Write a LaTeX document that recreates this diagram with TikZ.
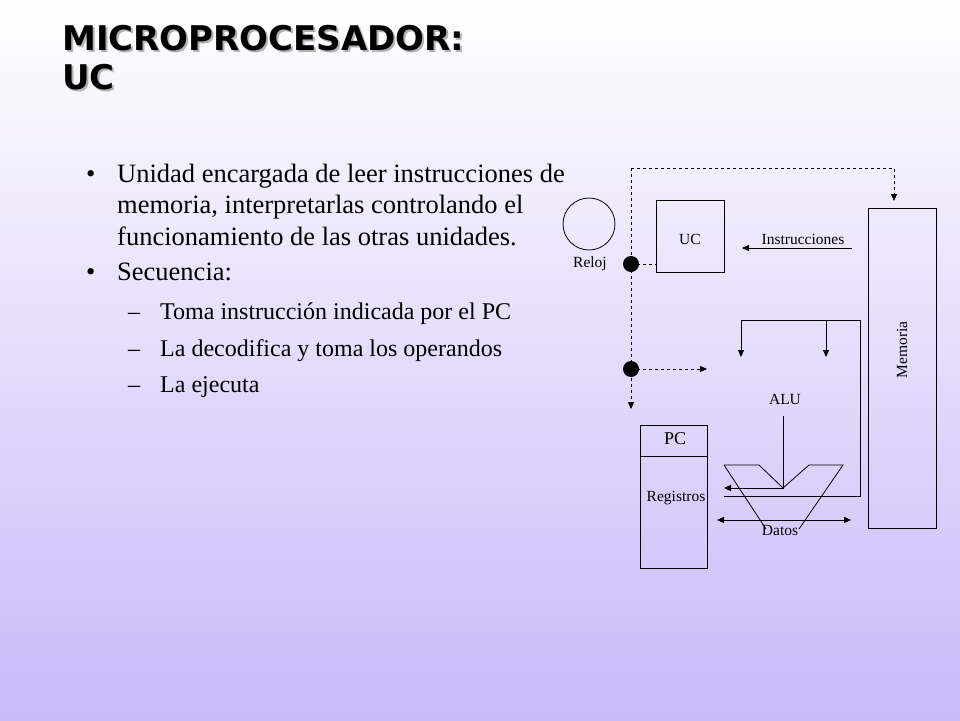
\documentclass[tikz,border=0pt]{standalone}
\usepackage{fontspec}
\setmainfont{Liberation Serif}
\newfontfamily\titlefont{DejaVu Sans}
\usetikzlibrary{arrows.meta}
\definecolor{lav}{RGB}{200,185,248}
\begin{document}
\begin{tikzpicture}[x=1pt,y=-1pt,
  ln/.style={line width=0.8pt},
  dsh/.style={ln,dash pattern=on 3pt off 3pt},
  arr/.style={-{Triangle[length=7pt,width=6pt]}},
  lbl/.style={font=\fontsize{15.5}{17}\selectfont,inner sep=0pt},
  body/.style={font=\fontsize{26.5}{30}\selectfont,anchor=base west,inner sep=0pt},
  sub/.style={font=\fontsize{24}{27}\selectfont,anchor=base west,inner sep=0pt}]
\shade[top color=white,bottom color=lav] (0,0) rectangle (960,720);
\useasboundingbox (0,0) rectangle (960,720);
% title
\node[anchor=base west,inner sep=0pt,text=gray!60,font=\titlefont\bfseries\fontsize{34}{38}\selectfont] at (64,52) {MICROPROCESADOR:};
\node[anchor=base west,inner sep=0pt,text=gray!60,font=\titlefont\bfseries\fontsize{34}{38}\selectfont] at (64,91) {UC};
\node[anchor=base west,inner sep=0pt,font=\titlefont\bfseries\fontsize{34}{38}\selectfont] (title1) at (62,50) {MICROPROCESADOR:};
\node[anchor=base west,inner sep=0pt,font=\titlefont\bfseries\fontsize{34}{38}\selectfont] (title2) at (62,89) {UC};
% text
\node[body] (b1) at (86,182) {•};
\node[body] (t1) at (117,182) {Unidad encargada de leer instrucciones de};
\node[body] (t2) at (117,213) {memoria, interpretarlas controlando el};
\node[body] (t3) at (117,245) {funcionamiento de las otras unidades.};
\node[body] (b2) at (86,280) {•};
\node[body] (t4) at (117,280) {Secuencia:};
\node[sub] (d1) at (128,319) {–};
\node[sub] (s1) at (160,319) {Toma instrucción indicada por el PC};
\node[sub] (d2) at (128,356) {–};
\node[sub] (s2) at (160,356) {La decodifica y toma los operandos};
\node[sub] (d3) at (128,392) {–};
\node[sub] (s3) at (160,392) {La ejecuta};
% diagram
\node[draw,ln,circle,minimum size=52pt,inner sep=0pt] (reloj) at (589,224) {};
\node[lbl] (rl) at (590,264) {Reloj};
\node[draw,ln,minimum width=68pt,minimum height=72pt,inner sep=0pt] (uc) at (690,236) {};
\node[lbl] at (690,239) {UC};
\node[draw,ln,minimum width=68pt,minimum height=320pt,inner sep=0pt] (mem) at (902,368) {};
\node[lbl,rotate=90] at (902,350) {Memoria};
\node[draw,ln,minimum width=67pt,minimum height=143pt,inner sep=0pt] (reg) at (673.5,496.5) {};
\draw[ln] (640,456) -- (707,456);
\node[lbl,font=\fontsize{18}{20}\selectfont] at (675,439) {PC};
\node[lbl] at (676,498) {Registros};
\fill (631,264) circle (8) coordinate (dot1);
\fill (631,369) circle (8) coordinate (dot2);
\coordinate (top1) at (631,168);
\coordinate (top2) at (894,168);
\coordinate (memin) at (894,201);
\coordinate (down) at (631,409);
\coordinate (alin) at (707,369);
\draw[dsh,arr] (top1) -- (top2) -- (memin);
\draw[dsh,arr] (top1) -- (down);
\draw[dsh] (dot1) -- (uc.west|-dot1);
\draw[dsh,arr] (dot2) -- (alin);
\coordinate (i1) at (852,248); \coordinate (i2) at (742,248);
\draw[ln,arr] (i1) -- (i2);
\node[lbl] at (803,239) {Instrucciones};
% ALU
\draw[ln] (724,465) -- (759,465) -- (783,488) -- (809,465) -- (843,465) -- (799,529);
\draw[ln] (724,465) -- (766,529);
\node[lbl] at (785,399) {ALU};
\coordinate (a1) at (783,416); \coordinate (a2) at (783,488); \coordinate (a3) at (724,488);
\draw[ln,arr] (a1) -- (a2) -- (a3);
\coordinate (f1) at (741,357); \coordinate (f2) at (826,357);
\draw[ln,arr] (724,496) -- (860,496) -- (860,320) -- (741,320) -- (f1);
\draw[ln,arr] (826,320) -- (f2);
\coordinate (da) at (717,520); \coordinate (db) at (851,520);
\draw[ln,{Triangle[length=7pt,width=6pt]}-{Triangle[length=7pt,width=6pt]}] (da) -- (db);
\node[lbl] at (780,530) {Datos};
\end{tikzpicture}
\end{document}
